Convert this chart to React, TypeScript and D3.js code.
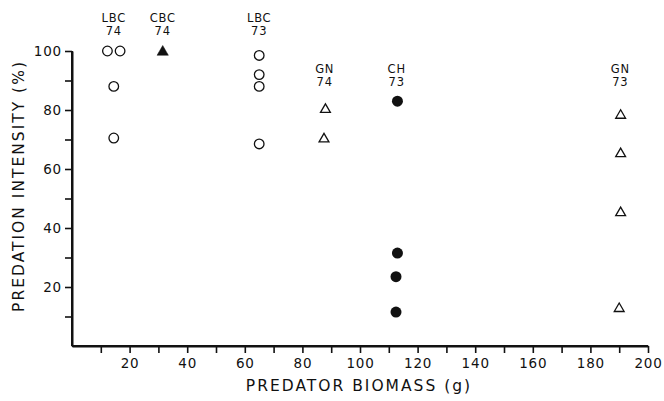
import React, { useEffect, useRef } from 'react';
import * as d3 from 'd3';

// predator biomass (g) / predation intensity (%) for each site-year
const lbc74Biomass = [12.3, 16.7, 14.5, 14.5];
const lbc74Intensity = [100, 100, 88, 70.5];
const cbc74Biomass = [31.5];
const cbc74Intensity = [100];
const lbc73Biomass = [65, 65, 65, 65];
const lbc73Intensity = [98.5, 92, 88, 68.5];
const gn74Biomass = [88, 87.5];
const gn74Intensity = [80.5, 70.5];
const ch73Biomass = [113, 113, 112.5, 112.5];
const ch73Intensity = [83, 31.5, 23.5, 11.5];
const gn73Biomass = [190.5, 190.5, 190.5, 190];
const gn73Intensity = [78.5, 65.5, 45.5, 13];

const xTickLabels = [20, 40, 60, 80, 100, 120, 140, 160, 180, 200];
const yTickLabels = [20, 40, 60, 80, 100];

type Symbol = 'open-circle' | 'filled-circle' | 'open-triangle' | 'filled-triangle';

const series: { name: string; year: string; symbol: Symbol; tier: number; xs: number[]; ys: number[] }[] = [
    { name: 'LBC', year: '74', symbol: 'open-circle', tier: 0, xs: lbc74Biomass, ys: lbc74Intensity },
    { name: 'CBC', year: '74', symbol: 'filled-triangle', tier: 0, xs: cbc74Biomass, ys: cbc74Intensity },
    { name: 'LBC', year: '73', symbol: 'open-circle', tier: 0, xs: lbc73Biomass, ys: lbc73Intensity },
    { name: 'GN', year: '74', symbol: 'open-triangle', tier: 1, xs: gn74Biomass, ys: gn74Intensity },
    { name: 'CH', year: '73', symbol: 'filled-circle', tier: 1, xs: ch73Biomass, ys: ch73Intensity },
    { name: 'GN', year: '73', symbol: 'open-triangle', tier: 1, xs: gn73Biomass, ys: gn73Intensity },
];

const INK = '#111';
const FONT = '"DejaVu Sans", sans-serif';

const App = () => {
    const ref = useRef<SVGSVGElement>(null);

    useEffect(() => {
        const width = 664;
        const height = 401;
        const margin = { left: 72, right: 16, top: 51, bottom: 56 };

        const x = d3.scaleLinear().domain([0, 200]).range([margin.left, 648]);
        const y = d3.scaleLinear().domain([0, 100]).range([346, margin.top]);

        const svg = d3.select(ref.current)
            .attr('width', width)
            .attr('height', height);
        svg.selectAll('*').remove();

        // x axis: ticks every 10, labels every 20
        const xAxis = svg.append('g')
            .attr('transform', `translate(0,${y(0)})`)
            .call(d3.axisBottom(x)
                .tickValues(d3.range(10, 201, 10))
                .tickSize(7)
                .tickPadding(5)
                .tickSizeOuter(0)
                .tickFormat(d => (xTickLabels.includes(+d) ? String(d) : '')));

        const yAxis = svg.append('g')
            .attr('transform', `translate(${x(0)},0)`)
            .call(d3.axisLeft(y)
                .tickValues(d3.range(10, 101, 10))
                .tickSize(7)
                .tickPadding(3)
                .tickSizeOuter(0)
                .tickFormat(d => (yTickLabels.includes(+d) ? String(d) : '')));

        [xAxis, yAxis].forEach(g => {
            g.select('.domain').attr('stroke', INK).attr('stroke-width', 2);
            g.selectAll('.tick line').attr('stroke', INK).attr('stroke-width', 1.6);
            g.selectAll('.tick text')
                .attr('fill', INK)
                .attr('font-family', FONT)
                .attr('font-size', 13.5)
                .attr('letter-spacing', 0.8);
        });
        // the axis lines meet at the origin
        svg.append('line')
            .attr('x1', x(0)).attr('x2', x(200))
            .attr('y1', y(0)).attr('y2', y(0))
            .attr('stroke', INK).attr('stroke-width', 2);
        svg.append('line')
            .attr('x1', x(0)).attr('x2', x(0))
            .attr('y1', y(0)).attr('y2', y(100))
            .attr('stroke', INK).attr('stroke-width', 2);

        // axis titles
        svg.append('text')
            .attr('x', 359)
            .attr('y', 391)
            .attr('text-anchor', 'middle')
            .attr('font-family', FONT)
            .attr('font-size', 15.5)
            .attr('letter-spacing', 2)
            .attr('fill', INK)
            .text('PREDATOR BIOMASS (g)');

        svg.append('text')
            .attr('transform', `translate(24,186) rotate(-90)`)
            .attr('text-anchor', 'middle')
            .attr('font-family', FONT)
            .attr('font-size', 15.5)
            .attr('letter-spacing', 2)
            .attr('fill', INK)
            .text('PREDATION INTENSITY (%)');

        const tri = d3.symbol().type(d3.symbolTriangle).size(42);
        const triFilled = d3.symbol().type(d3.symbolTriangle).size(55);

        series.forEach(s => {
            const g = svg.append('g');
            const pts = s.xs.map((v, i) => [v, s.ys[i]] as [number, number]);
            if (s.symbol === 'open-circle' || s.symbol === 'filled-circle') {
                const filled = s.symbol === 'filled-circle';
                g.selectAll('circle')
                    .data(pts)
                    .join('circle')
                    .attr('cx', d => x(d[0]))
                    .attr('cy', d => y(d[1]))
                    .attr('r', filled ? 5.5 : 4.8)
                    .attr('fill', filled ? INK : 'none')
                    .attr('stroke', INK)
                    .attr('stroke-width', filled ? 0 : 1.3);
            } else {
                const filled = s.symbol === 'filled-triangle';
                g.selectAll('path')
                    .data(pts)
                    .join('path')
                    .attr('transform', d => `translate(${x(d[0])},${y(d[1]) + 1})`)
                    .attr('d', filled ? triFilled() : tri())
                    .attr('fill', filled ? INK : 'none')
                    .attr('stroke', INK)
                    .attr('stroke-width', filled ? 0.5 : 1.3);
            }

            // two-line site / year label above the column
            const lx = x(d3.mean(s.xs) as number);
            const base = s.tier === 0 ? 22 : 73;
            const label = g.append('text')
                .attr('text-anchor', 'middle')
                .attr('font-family', FONT)
                .attr('font-size', 11.5)
                .attr('letter-spacing', 0.8)
                .attr('fill', INK);
            label.append('tspan').attr('x', lx).attr('y', base).text(s.name);
            label.append('tspan').attr('x', lx).attr('y', base + 13).text(s.year);
        });
    }, []);

    return (
        <div style={{ position: 'absolute', left: 0, top: 0, background: 'white' }}>
            <svg ref={ref} style={{ display: 'block' }} />
        </div>
    );
};

export default App;
